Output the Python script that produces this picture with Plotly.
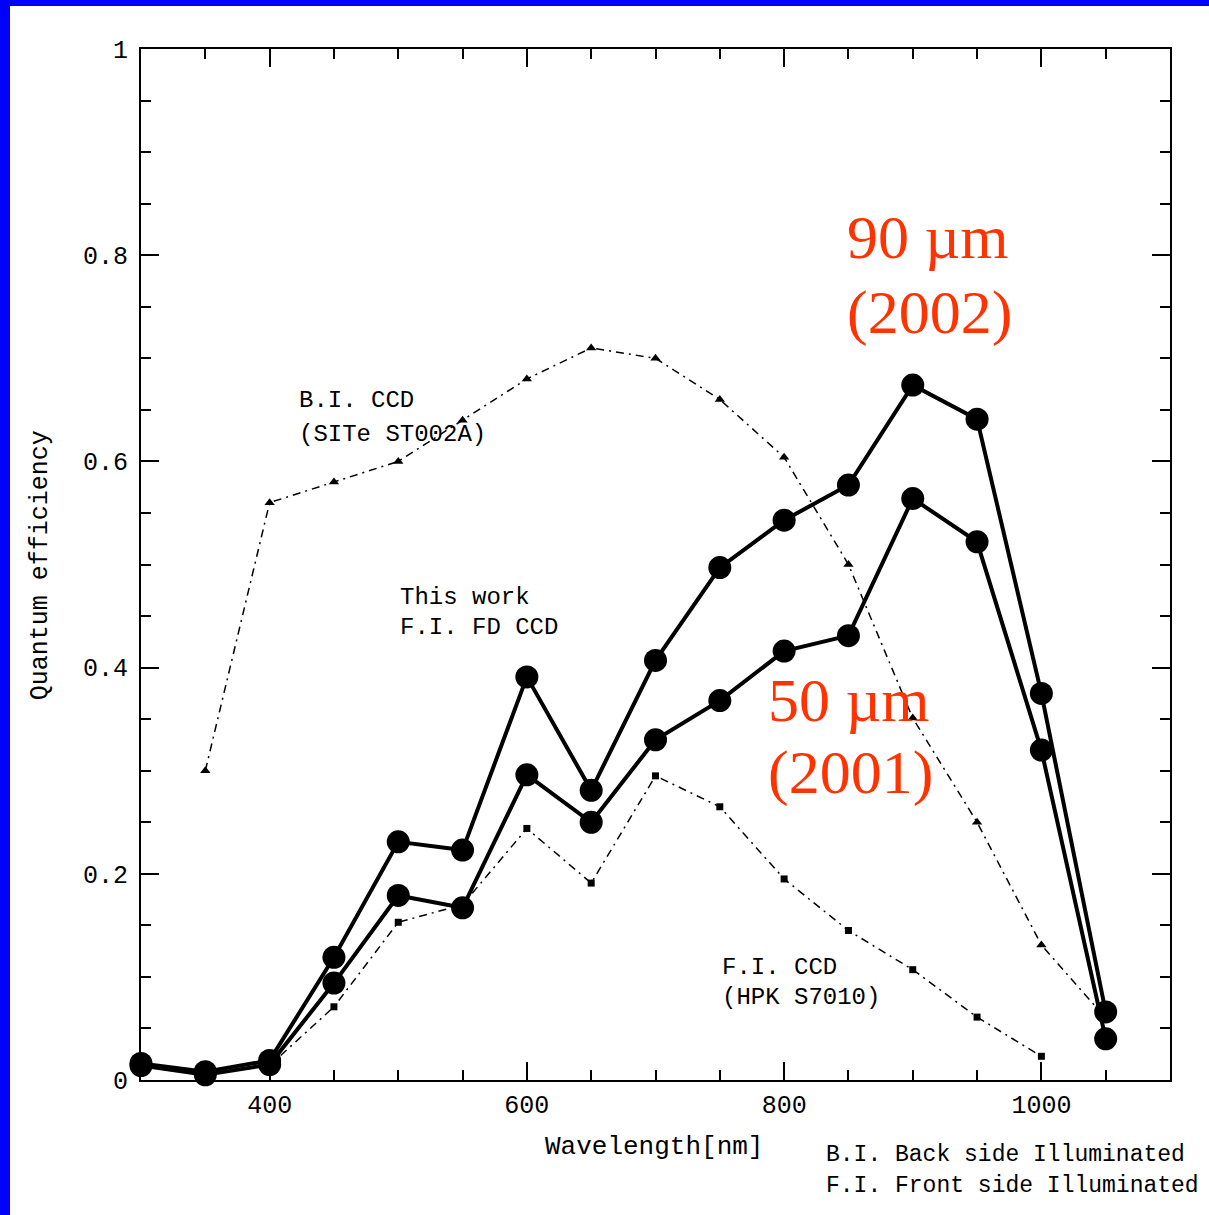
import plotly.graph_objects as go

# Wavelength grid (nm)
wl_fd = [300, 350, 400, 450, 500, 550, 600, 650, 700, 750, 800, 850, 900, 950, 1000, 1050]
wl_bi = [350, 400, 450, 500, 550, 600, 650, 700, 750, 800, 850, 900, 950, 1000, 1050]
wl_fi = [350, 400, 450, 500, 550, 600, 650, 700, 750, 800, 850, 900, 950, 1000]

# Quantum efficiency of the fully depleted CCDs (this work)
qe_90um = [0.016, 0.008, 0.019, 0.119, 0.231, 0.223, 0.391, 0.281, 0.407, 0.497,
           0.543, 0.577, 0.674, 0.641, 0.375, 0.066]
qe_50um = [0.014, 0.005, 0.015, 0.094, 0.179, 0.167, 0.296, 0.250, 0.330, 0.368,
           0.416, 0.431, 0.564, 0.522, 0.320, 0.040]

# Back-side illuminated CCD (SITe ST002A)
qe_bi = [0.30, 0.56, 0.58, 0.60, 0.64, 0.68, 0.71, 0.70, 0.66, 0.604,
         0.50, 0.351, 0.25, 0.131, 0.06]

# Front-side illuminated CCD (HPK S7010)
qe_fi = [0.005, 0.014, 0.071, 0.153, 0.170, 0.244, 0.191, 0.295, 0.265, 0.195,
         0.145, 0.107, 0.061, 0.023]

x_ticks = [400, 600, 800, 1000]
y_ticks = [0, 0.2, 0.4, 0.6, 0.8, 1]
y_tick_text = ["0", "0.2", "0.4", "0.6", "0.8", "1"]

MONO = "Liberation Mono"
SERIF = "Liberation Serif"
RED = "#FF3300"

fig = go.Figure()

fig.add_trace(go.Scatter(
    x=wl_bi, y=qe_bi, mode="lines+markers", cliponaxis=False,
    line=dict(color="black", width=1.5, dash="8px,5px,2px,5px"),
    marker=dict(symbol="triangle-up", size=9, color="black"),
    showlegend=False))

fig.add_trace(go.Scatter(
    x=wl_fi, y=qe_fi, mode="lines+markers", cliponaxis=False,
    line=dict(color="black", width=1.5, dash="8px,5px,2px,5px"),
    marker=dict(symbol="square", size=7, color="black"),
    showlegend=False))

for qe in (qe_50um, qe_90um):
    fig.add_trace(go.Scatter(
        x=wl_fd, y=qe, mode="lines+markers", cliponaxis=False,
        line=dict(color="black", width=4),
        marker=dict(symbol="circle", size=23, color="black"),
        showlegend=False))

axis_common = dict(
    showline=True, linecolor="black", linewidth=2, mirror="ticks",
    ticks="inside", ticklen=18, tickwidth=2, tickcolor="black",
    showgrid=False, zeroline=False,
    tickfont=dict(family=MONO, size=25, color="black"),
)

fig.update_xaxes(range=[300, 1100], tickvals=x_ticks, ticklabelstandoff=1,
                 minor=dict(dtick=50, ticks="inside", ticklen=10, tickwidth=2,
                            tickcolor="black", showgrid=False),
                 **axis_common)
fig.update_yaxes(range=[0, 1], tickvals=y_ticks, ticktext=y_tick_text,
                 ticklabelstandoff=6,
                 minor=dict(dtick=0.05, ticks="inside", ticklen=10, tickwidth=2,
                            tickcolor="black", showgrid=False),
                 **axis_common)

annotations = []

def label(text, x, y, size=24, color="black", family=MONO, xref="x", yref="y",
          xanchor="left", textangle=0):
    annotations.append(dict(
        text=text, x=x, y=y, xref=xref, yref=yref, xanchor=xanchor,
        yanchor="middle", showarrow=False, textangle=textangle,
        font=dict(family=family, size=size, color=color)))

# curve labels
label("B.I. CCD", 421, 0.659)
label("(SITe ST002A)", 421, 0.626)
label("This work", 500, 0.468)
label("F.I. FD CCD", 500, 0.439)
label("F.I. CCD", 750, 0.109)
label("(HPK S7010)", 750, 0.080)

# detector thickness labels
label("90 µm", 847, 0.818, size=62, color=RED, family=SERIF)
label("(2002)", 847, 0.744, size=62, color=RED, family=SERIF)
label("50 µm", 786, 0.369, size=62, color=RED, family=SERIF)
label("(2001)", 786, 0.298, size=62, color=RED, family=SERIF)

# axis titles and footnote
label("Wavelength[nm]", 0.3907, -0.065, size=26, xref="paper", yref="paper")
label("Quantum efficiency", -0.098, 0.4995, size=25, xref="paper", yref="paper",
      xanchor="center", textangle=-90)
label("B.I. Back side Illuminated", 0.664, -0.0727, size=23,
      xref="paper", yref="paper")
label("F.I. Front side Illuminated", 0.664, -0.1028, size=23,
      xref="paper", yref="paper")

# blue frame along the left and top edges of the page
W, H = 1209, 1215
L, R, T, B = 141, 39, 49, 135
pw, ph = W - L - R, H - T - B

def px_x(px):
    return (px - L) / pw

def px_y(py):
    return (H - B - py) / ph

shapes = [
    dict(type="rect", xref="paper", yref="paper", layer="above",
         x0=px_x(0), x1=px_x(10), y0=px_y(H), y1=px_y(0),
         fillcolor="#0000FF", line=dict(width=0)),
    dict(type="rect", xref="paper", yref="paper", layer="above",
         x0=px_x(0), x1=px_x(W), y0=px_y(6), y1=px_y(0),
         fillcolor="#0000FF", line=dict(width=0)),
]

fig.update_layout(
    width=W, height=H,
    margin=dict(l=L, r=R, t=T, b=B, pad=0),
    paper_bgcolor="white", plot_bgcolor="white",
    annotations=annotations, shapes=shapes,
)

fig.write_html("out.html")
